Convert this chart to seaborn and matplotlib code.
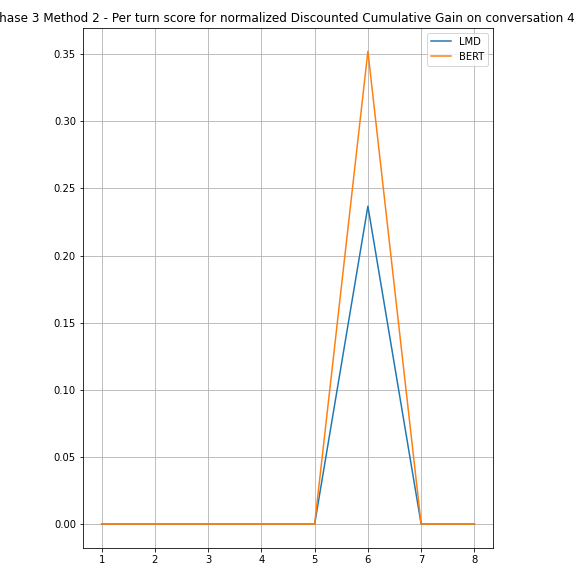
import pandas as pd
import matplotlib
matplotlib.use("Agg")
import matplotlib.pyplot as plt
import seaborn as sns

turns = [1, 2, 3, 4, 5, 6, 7, 8]
lmd = [0, 0, 0, 0, 0, 0.2368, 0, 0]
bert = [0, 0, 0, 0, 0, 0.3522, 0, 0]

df = pd.DataFrame({
    "turn": turns * 2,
    "score": lmd + bert,
    "model": ["LMD"] * len(turns) + ["BERT"] * len(turns),
})

fig = plt.figure(figsize=(8, 8), dpi=72)
ax = fig.add_axes([0.144, 0.049, 0.712, 0.903])
sns.lineplot(data=df, x="turn", y="score", hue="model",
             palette=["#1f77b4", "#ff7f0e"], ax=ax)
ax.set_xlabel("")
ax.set_ylabel("")
ax.grid(True)
ax.legend(loc="upper right")
ax.set_title("Phase 3 Method 2 - Per turn score for normalized Discounted Cumulative Gain on conversation 4",
             x=0.488)
fig.savefig("out.png", dpi=72)
